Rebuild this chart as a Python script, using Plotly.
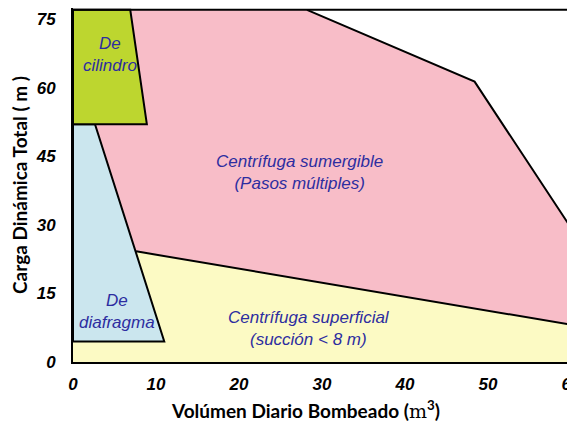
import plotly.graph_objects as go

# Region polygons (x = m3/day, y = m)
pink_x = [6.9, 28.2, 48.4, 60.5, 60.5, 7.6, 2.65, 8.9]
pink_y = [77, 77, 61.3, 28, 8, 24.2, 52, 52]
pink_edge1_x = [28.2, 48.4, 60.5]
pink_edge1_y = [77, 61.3, 28]
pink_edge2_x = [7.6, 60.5]
pink_edge2_y = [24.2, 8]
yellow_x = [0, 60.5, 60.5, 7.6, 11, 0]
yellow_y = [0, 0, 8, 24.2, 4.5, 4.5]
blue_x = [0, 2.65, 11, 0, 0]
blue_y = [52, 52, 4.5, 4.5, 52]
green_x = [0, 6.9, 8.9, 0, 0]
green_y = [77, 77, 52, 52, 77]
top_x = [0, 60.5]
top_y = [77, 77]

labels = ["De<br>cilindro", "Centrífuga sumergible<br>(Pasos múltiples)",
          "De<br>diafragma", "Centrífuga superficial<br>(succión < 8 m)"]
label_x = [4.4, 27.3, 5.3, 28.5]
label_y = [67.3, 41.4, 11.0, 7.3]

x_ticks = [0, 10, 20, 30, 40, 50, 60]
y_ticks = [0, 15, 30, 45, 60, 75]

x_title = "<b>Volúmen Diario Bombeado (<span style='font-family:DejaVu Serif;font-weight:normal'>m</span><sup>3</sup>)</b>"
y_title = "<b>Carga Dinámica Total ( m )</b>"

fig = go.Figure()
fig.add_trace(go.Scatter(x=pink_x, y=pink_y, fill="toself", fillcolor="#F8BDC8",
                         mode="lines", line=dict(width=0), hoverinfo="skip"))
fig.add_trace(go.Scatter(x=yellow_x, y=yellow_y, fill="toself", fillcolor="#FCFAC4",
                         mode="lines", line=dict(width=0), hoverinfo="skip"))
fig.add_trace(go.Scatter(x=pink_edge1_x, y=pink_edge1_y, mode="lines",
                         line=dict(color="black", width=2), hoverinfo="skip"))
fig.add_trace(go.Scatter(x=pink_edge2_x, y=pink_edge2_y, mode="lines",
                         line=dict(color="black", width=2), hoverinfo="skip"))
fig.add_trace(go.Scatter(x=blue_x, y=blue_y, fill="toself", fillcolor="#CBE6EE",
                         mode="lines", line=dict(color="black", width=2), hoverinfo="skip"))
fig.add_trace(go.Scatter(x=green_x, y=green_y, fill="toself", fillcolor="#BDD62F",
                         mode="lines", line=dict(color="black", width=2), hoverinfo="skip"))
fig.add_trace(go.Scatter(x=top_x, y=top_y, mode="lines",
                         line=dict(color="black", width=2), hoverinfo="skip"))

for t, lx, ly in zip(labels, label_x, label_y):
    fig.add_annotation(x=lx, y=ly, text="<i>" + t + "</i>", showarrow=False,
                       font=dict(family="Liberation Sans, Arial", size=17, color="#2D2DA0"))

fig.add_annotation(xref="paper", yref="paper", x=0.464, y=-0.135, yanchor="middle",
                   text=x_title, showarrow=False,
                   font=dict(family="Lato", size=19, color="black"))

fig.update_layout(
    width=567, height=416, showlegend=False,
    margin=dict(l=65, r=0, t=0, b=62),
    paper_bgcolor="white", plot_bgcolor="white",
    font=dict(family="Liberation Sans, Arial", color="black"),
)
fig.update_xaxes(range=[0, 60.5], tickvals=x_ticks,
                 ticktext=[f"<b><i>{v}</i></b>" for v in x_ticks],
                 tickfont=dict(size=17), showgrid=False, zeroline=False,
                 showline=True, linecolor="black", linewidth=2,
                 ticklabelstandoff=6, ticklabeloverflow="allow", automargin=False)
fig.update_yaxes(range=[0, 77.4], tickvals=y_ticks,
                 ticktext=[f"<b><i>{v}</i></b>" for v in y_ticks],
                 tickfont=dict(size=17), showgrid=False, zeroline=False,
                 showline=True, linecolor="black", linewidth=2,
                 ticklabelstandoff=12, automargin=False,
                 title=dict(text=y_title,
                            font=dict(family="Lato", size=19), standoff=8))

fig.write_html("out.html")
